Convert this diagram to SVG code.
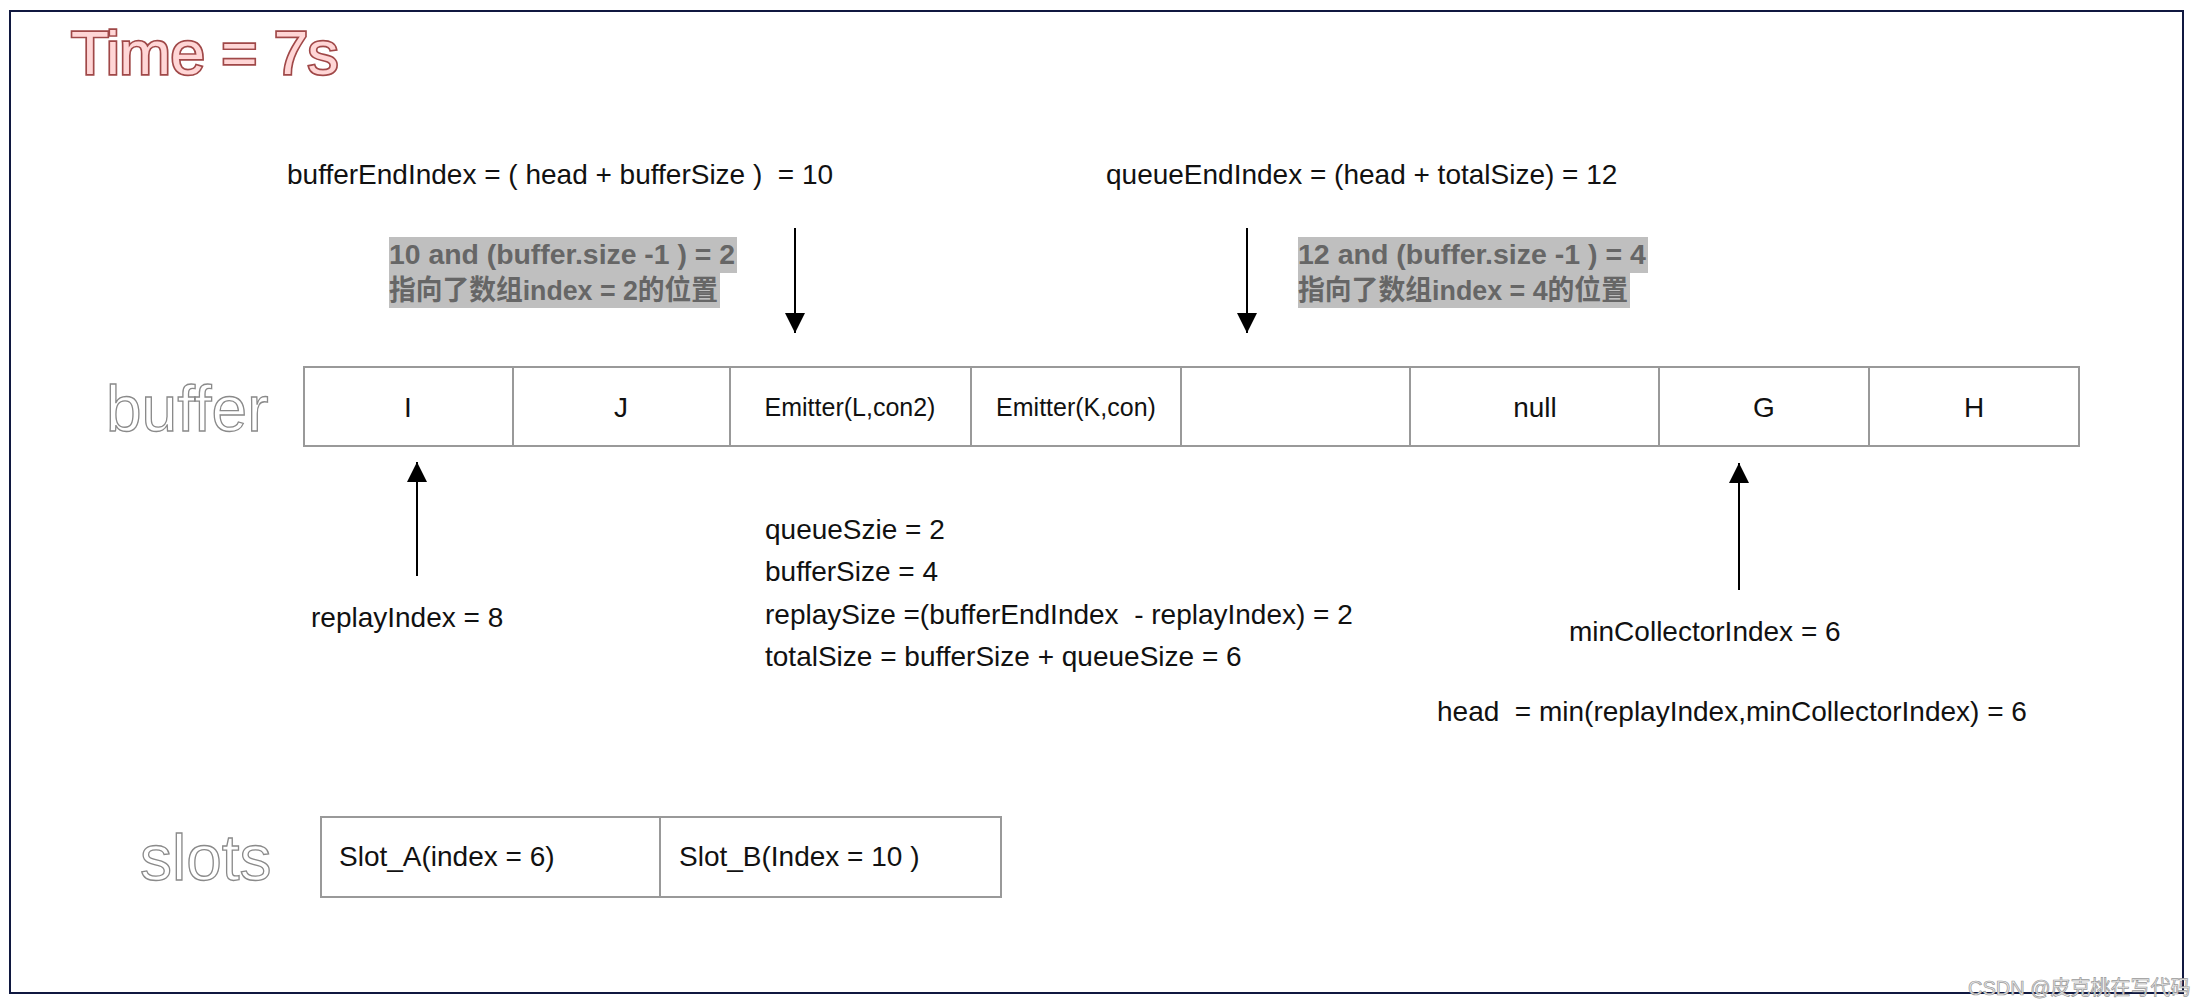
<svg xmlns="http://www.w3.org/2000/svg" width="2194" height="1008" viewBox="0 0 2194 1008">
<style>
.t{font-family:"Liberation Sans",Arial,"Noto Sans CJK SC",sans-serif;font-size:28px;fill:#111}
.c{text-anchor:middle}
.e{font-size:25px}
.g{font-family:"Liberation Sans",Arial,"Noto Sans CJK SC",sans-serif;font-size:28px;font-weight:bold;fill:#666}
.hl{fill:#bfbfbf}
.cell{fill:#fff;stroke:#999;stroke-width:2}
.big{font-family:"Liberation Sans",Arial,sans-serif;font-size:64px;fill:#fff;stroke:#8a8a8a;stroke-width:1.3}
.arr{stroke:#000;stroke-width:2;fill:none;marker-end:url(#ah)}
</style>
<defs>
<marker id="ah" viewBox="0 0 20 20" refX="20" refY="10" markerWidth="20" markerHeight="20" orient="auto" markerUnits="userSpaceOnUse"><path d="M0,0 L20,10 L0,20 z" fill="#000"/></marker>
</defs>
<rect x="0" y="0" width="2194" height="1008" fill="#fff"/>
<rect x="10" y="11" width="2173" height="982" fill="none" stroke="#101840" stroke-width="2"/>
<text x="71" y="74" font-family="Liberation Sans,Arial,sans-serif" font-size="62" fill="#ffd6d6" stroke="#a04848" stroke-width="3.4" paint-order="stroke" letter-spacing="-0.5">Time = 7s</text>

<g id="label-bufferEnd"><text class="t" x="287" y="184" xml:space="preserve">bufferEndIndex = ( head + bufferSize )  = 10</text></g>
<g id="label-queueEnd"><text class="t" x="1106" y="184">queueEndIndex = (head + totalSize) = 12</text></g>

<g id="note-1">
<rect class="hl" x="389" y="237" width="348" height="36"/>
<rect class="hl" x="389" y="273" width="331" height="35"/>
<text class="g" x="389" y="264" textLength="346" lengthAdjust="spacingAndGlyphs">10 and (buffer.size -1 ) = 2</text>
<text class="g" x="389" y="300" textLength="329" lengthAdjust="spacingAndGlyphs">指向了数组index = 2的位置</text>
</g>
<g id="note-2">
<rect class="hl" x="1298" y="237" width="350" height="36"/>
<rect class="hl" x="1298" y="273" width="332" height="35"/>
<text class="g" x="1298" y="264" textLength="348" lengthAdjust="spacingAndGlyphs">12 and (buffer.size -1 ) = 4</text>
<text class="g" x="1298" y="300" textLength="330" lengthAdjust="spacingAndGlyphs">指向了数组index = 4的位置</text>
</g>

<g id="buffer-label"><text class="big" x="106" y="431">buffer</text></g>
<g id="buffer">
<rect class="cell" x="304" y="367" width="209" height="79"/>
<rect class="cell" x="513" y="367" width="217" height="79"/>
<rect class="cell" x="730" y="367" width="241" height="79"/>
<rect class="cell" x="971" y="367" width="210" height="79"/>
<rect class="cell" x="1181" y="367" width="229" height="79"/>
<rect class="cell" x="1410" y="367" width="249" height="79"/>
<rect class="cell" x="1659" y="367" width="210" height="79"/>
<rect class="cell" x="1869" y="367" width="210" height="79"/>
<text class="t c" x="408" y="417">I</text>
<text class="t c" x="621" y="417">J</text>
<text class="t c e" x="850" y="416">Emitter(L,con2)</text>
<text class="t c e" x="1076" y="416">Emitter(K,con)</text>
<text class="t c" x="1535" y="417">null</text>
<text class="t c" x="1764" y="417">G</text>
<text class="t c" x="1974" y="417">H</text>
</g>

<g id="connectors">
<line class="arr" x1="795" y1="228" x2="795" y2="333"/>
<line class="arr" x1="1247" y1="228" x2="1247" y2="333"/>
<line class="arr" x1="417" y1="576" x2="417" y2="462"/>
<line class="arr" x1="1739" y1="590" x2="1739" y2="463"/>
</g>

<g id="label-replayIndex"><text class="t" x="311" y="627">replayIndex = 8</text></g>
<g id="sizes">
<text class="t" x="765" y="539">queueSzie = 2</text>
<text class="t" x="765" y="581">bufferSize = 4</text>
<text class="t" x="765" y="624" xml:space="preserve">replaySize =(bufferEndIndex  - replayIndex) = 2</text>
<text class="t" x="765" y="666">totalSize = bufferSize + queueSize = 6</text>
</g>
<g id="label-minCollector"><text class="t" x="1569" y="641">minCollectorIndex = 6</text></g>
<g id="label-head"><text class="t" x="1437" y="721" xml:space="preserve">head  = min(replayIndex,minCollectorIndex) = 6</text></g>

<g id="slots-label"><text class="big" x="140" y="880">slots</text></g>
<g id="slots">
<rect class="cell" x="321" y="817" width="339" height="80"/>
<rect class="cell" x="660" y="817" width="341" height="80"/>
<text class="t" x="339" y="866">Slot_A(index = 6)</text>
<text class="t" x="679" y="866">Slot_B(Index = 10 )</text>
</g>

<text x="1968" y="995" font-family="Liberation Sans,Arial,Noto Sans CJK SC,sans-serif" font-size="20" fill="#eaeaea" stroke="#9a9a9a" stroke-width="0.7">CSDN @皮克桃在写代码</text>
</svg>
